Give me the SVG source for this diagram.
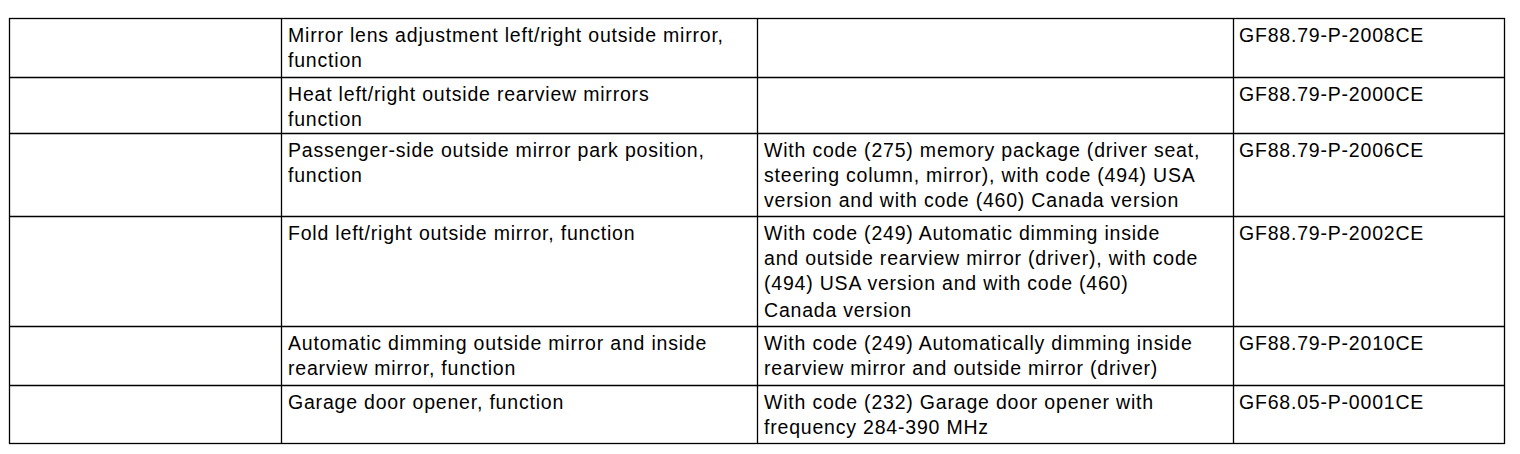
<svg xmlns="http://www.w3.org/2000/svg" width="1520" height="454" viewBox="0 0 1520 454">
<style>
.g{stroke:#000;stroke-width:1.3;fill:none}
text{font-family:"Liberation Sans",Arial,Helvetica,sans-serif;font-size:19.5px;letter-spacing:0.8px;fill:#000}
</style>
<rect width="1520" height="454" fill="#fff"/>
<g id="grid" class="g">
<rect x="9.5" y="18.5" width="1495" height="425"/>
<line x1="9.5" y1="77.5" x2="1504.5" y2="77.5"/>
<line x1="9.5" y1="133.5" x2="1504.5" y2="133.5"/>
<line x1="9.5" y1="216.5" x2="1504.5" y2="216.5"/>
<line x1="9.5" y1="326.5" x2="1504.5" y2="326.5"/>
<line x1="9.5" y1="385.5" x2="1504.5" y2="385.5"/>
<line x1="281.5" y1="18.5" x2="281.5" y2="443.5"/>
<line x1="757.5" y1="18.5" x2="757.5" y2="443.5"/>
<line x1="1233.5" y1="18.5" x2="1233.5" y2="443.5"/>
</g>
<g id="row1">
<text x="288" y="42">Mirror lens adjustment left/right outside mirror,</text>
<text x="288" y="67">function</text>
<text x="1239" y="42">GF88.79-P-2008CE</text>
</g>
<g id="row2">
<text x="288" y="101">Heat left/right outside rearview mirrors</text>
<text x="288" y="126">function</text>
<text x="1239" y="101">GF88.79-P-2000CE</text>
</g>
<g id="row3">
<text x="288" y="157">Passenger-side outside mirror park position,</text>
<text x="288" y="182">function</text>
<text x="764" y="157">With code (275) memory package (driver seat,</text>
<text x="764" y="182">steering column, mirror), with code (494) USA</text>
<text x="764" y="207">version and with code (460) Canada version</text>
<text x="1239" y="157">GF88.79-P-2006CE</text>
</g>
<g id="row4">
<text x="288" y="240">Fold left/right outside mirror, function</text>
<text x="764" y="240">With code (249) Automatic dimming inside</text>
<text x="764" y="265">and outside rearview mirror (driver), with code</text>
<text x="764" y="290">(494) USA version and with code (460)</text>
<text x="764" y="317">Canada version</text>
<text x="1239" y="240">GF88.79-P-2002CE</text>
</g>
<g id="row5">
<text x="288" y="350">Automatic dimming outside mirror and inside</text>
<text x="288" y="375">rearview mirror, function</text>
<text x="764" y="350">With code (249) Automatically dimming inside</text>
<text x="764" y="375">rearview mirror and outside mirror (driver)</text>
<text x="1239" y="350">GF88.79-P-2010CE</text>
</g>
<g id="row6">
<text x="288" y="409">Garage door opener, function</text>
<text x="764" y="409">With code (232) Garage door opener with</text>
<text x="764" y="434">frequency 284-390 MHz</text>
<text x="1239" y="409">GF68.05-P-0001CE</text>
</g>
</svg>
